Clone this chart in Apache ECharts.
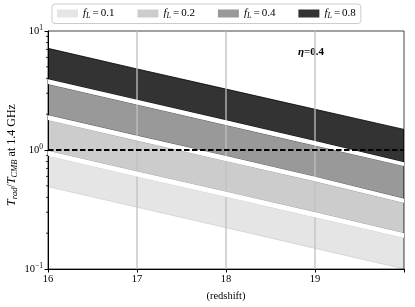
<!DOCTYPE html>
<html><head><meta charset="utf-8">
<script src="https://cdn.jsdelivr.net/npm/echarts@6/dist/echarts.min.js"></script>
<style>html,body{margin:0;padding:0;background:#fff}#c{width:415px;height:307px}</style>
</head><body><div id="c"></div>
<script>
// ---- data ----
const redshift = [16, 17, 18, 19, 20];
const fLValues = ['0.1', '0.2', '0.4', '0.8'];
const fLAlpha = [0.1, 0.2, 0.4, 0.8];
const upper_01 = [0.895, 0.60, 0.405, 0.272, 0.183];
const lower_01 = [0.49, 0.33, 0.222, 0.149, 0.100];
const upper_02 = [1.79, 1.20, 0.81, 0.545, 0.36];
const lower_02 = [0.98, 0.66, 0.445, 0.30, 0.20];
const upper_04 = [3.58, 2.41, 1.62, 1.09, 0.735];
const lower_04 = [1.96, 1.32, 0.89, 0.595, 0.39];
const upper_08 = [7.15, 4.80, 3.25, 2.20, 1.49];
const lower_08 = [3.93, 2.64, 1.78, 1.19, 0.79];
const refLevel = 1;
const gridX = [17, 18, 19];
const minorTicks = [0.2,0.3,0.4,0.5,0.6,0.7,0.8,0.9,2,3,4,5,6,7,8,9];
const etaLabel = '0.4';

const FONT = 'Liberation Serif';
const uppers = [upper_01, upper_02, upper_04, upper_08];
const lowers = [lower_01, lower_02, lower_04, lower_08];
const names = fLValues.map(v => 'fL=' + v);

const chart = echarts.init(document.getElementById('c'), null, {renderer: 'canvas'});

function polySeries(name, top, bottom, color, z, stroke) {
  return {
    type: 'custom', name: name, z: z, coordinateSystem: 'cartesian2d', clip: true,
    itemStyle: {color: color}, silent: true,
    data: [[redshift[0], top[0]]],
    renderItem: function (params, api) {
      const pts = [];
      for (let i = 0; i < redshift.length; i++) pts.push(api.coord([redshift[i], top[i]]));
      for (let i = redshift.length - 1; i >= 0; i--) pts.push(api.coord([redshift[i], bottom[i]]));
      return {type: 'polygon', shape: {points: pts},
        style: {fill: color, stroke: stroke ? color : null, lineWidth: stroke ? 1 : 0}};
    }
  };
}

const series = [];
for (let k = 0; k < 4; k++) {
  series.push(polySeries(names[k], uppers[k], lowers[k], 'rgba(0,0,0,' + fLAlpha[k] + ')', 2, true));
}
// vertical grid lines on top of bands
series.push({
  type: 'custom', z: 3, silent: true, coordinateSystem: 'cartesian2d',
  data: gridX.map(x => [x, refLevel]),
  renderItem: function (params, api) {
    const a = api.coord([api.value(0), 10]);
    const b = api.coord([api.value(0), 0.1]);
    return {type: 'line', shape: {x1: a[0], y1: a[1], x2: b[0], y2: b[1]},
      style: {stroke: '#c0c0c0', lineWidth: 1.3}};
  }
});
// white gaps between bands
for (let k = 0; k < 3; k++) {
  series.push(polySeries('gap' + k, lowers[k + 1], uppers[k], '#ffffff', 4, false));
}
// minor ticks on the log axis
series.push({
  type: 'custom', z: 5, silent: true, clip: false, coordinateSystem: 'cartesian2d',
  data: minorTicks.map(v => [redshift[0], v]),
  renderItem: function (params, api) {
    const p = api.coord([api.value(0), api.value(1)]);
    return {type: 'line', shape: {x1: p[0] - 2, y1: p[1], x2: p[0], y2: p[1]},
      style: {stroke: '#000', lineWidth: 0.8}};
  }
});
// dashed reference line
series.push({
  type: 'line', z: 6, silent: true, symbol: 'none',
  data: [[redshift[0], refLevel], [redshift[redshift.length - 1], refLevel]],
  lineStyle: {color: '#000', width: 1.8, type: [5.5, 2.5]}
});

chart.setOption({
  animation: false,
  backgroundColor: '#fff',
  grid: {left: 48, right: 11, top: 31, bottom: 38, show: true, borderColor: '#444', borderWidth: 1},
  legend: {
    data: names, top: 4, left: 52, icon: 'rect', itemWidth: 21, itemHeight: 8, itemGap: 23,
    padding: [4, 5], borderColor: '#cccccc', borderWidth: 1, borderRadius: 3,
    formatter: function (n) { return '{i|f}{s|L}{e|=}{n|' + n.split('=')[1] + '}'; },
    textStyle: {fontFamily: FONT, fontSize: 11, color: '#000',
      rich: {
        i: {fontFamily: FONT, fontStyle: 'italic', fontSize: 11},
        s: {fontFamily: FONT, fontStyle: 'italic', fontSize: 8, padding: [4, 0, 0, 0]},
        e: {fontFamily: FONT, fontSize: 11, padding: [0, 2, 0, 2]},
        n: {fontFamily: FONT, fontSize: 11}
      }}
  },
  xAxis: {
    type: 'value', min: 16, max: 20, interval: 1,
    axisLine: {show: true, lineStyle: {color: '#000', width: 1}},
    axisTick: {show: true, length: 3.5, lineStyle: {color: '#000'}},
    axisLabel: {fontFamily: FONT, fontSize: 10.5, color: '#000', margin: 5,
      formatter: function (v) { return v === 20 ? '' : String(v); }},
    splitLine: {show: false},
    name: '(redshift)', nameLocation: 'middle', nameGap: 22,
    nameTextStyle: {fontFamily: FONT, fontSize: 10.5, color: '#000'}
  },
  yAxis: {
    type: 'log', logBase: 10, min: 0.1, max: 10,
    axisLine: {show: true, lineStyle: {color: '#000', width: 1}},
    axisTick: {show: true, length: 3.5, lineStyle: {color: '#000'}},
    axisLabel: {fontFamily: FONT, fontSize: 10.5, color: '#000', margin: 5,
      formatter: function (v) {
        const e = Math.round(Math.log10(v));
        return '{b|10}{s|' + (e < 0 ? '\u2212' + (-e) : e) + '}';
      },
      rich: {
        b: {fontFamily: FONT, fontSize: 10.5},
        s: {fontFamily: FONT, fontSize: 7.5, padding: [0, 0, 6, 0]}
      }},
    splitLine: {show: false},
    minorTick: {show: false}
  },
  graphic: [
    {type: 'text', x: 12, y: 155, rotation: Math.PI / 2,
      style: {text: '{i|T}{s|rad}{n|/}{i|T}{s|CMB}{n| at 1.4 GHz}', textAlign: 'center', textVerticalAlign: 'middle',
        rich: {
          i: {fontFamily: FONT, fontStyle: 'italic', fontSize: 12},
          s: {fontFamily: FONT, fontStyle: 'italic', fontSize: 8.5, padding: [5, 0, 0, 0]},
          n: {fontFamily: FONT, fontSize: 12}
        }}},
    {type: 'text', left: 298, top: 47,
      style: {text: '{i|\u03b7}{n|=' + etaLabel + '}',
        rich: {
          i: {fontFamily: FONT, fontStyle: 'italic', fontWeight: 'bold', fontSize: 11},
          n: {fontFamily: FONT, fontWeight: 'bold', fontSize: 11}
        }}}
  ],
  series: series
});
</script>
</body></html>
